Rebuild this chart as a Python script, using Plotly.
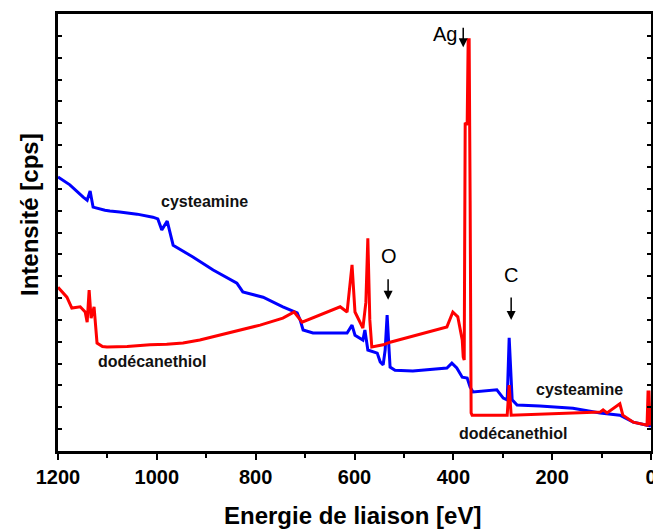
import plotly.graph_objects as go

# Cysteamine (blue) spectrum: binding energy [eV], intensity [a.u.]
cys_energy = [1200, 1176, 1149, 1141, 1135, 1129, 1105, 1095, 1075, 1040, 1008, 998, 990, 979, 967,
              927, 886, 838, 826, 785, 745, 716, 710, 704, 684, 615, 605, 599, 583, 579, 573,
              554, 548, 542, 538, 534, 530, 528, 518, 482, 413, 403, 393, 382, 372, 366, 360,
              312, 299, 291, 287, 283, 281, 271, 225, 158, 103, 63, 36, 8, 0]
cys_intensity = [62.7, 60.9, 58.1, 57.4, 59.5, 55.8, 55.1, 54.9, 54.7, 54.2, 53.5, 53.1, 50.6, 52.6, 47.1,
                 44.4, 41.4, 38.4, 36.4, 35.2, 33.0, 31.6, 30.0, 27.7, 27.0, 27.0, 28.8, 26.5, 25.4, 27.7, 23.1,
                 22.4, 20.4, 19.7, 23.1, 31.1, 23.1, 19.2, 18.5, 18.3, 19.0, 20.1, 19.0, 16.9, 16.7, 14.6, 13.5,
                 14.0, 12.1, 11.7, 25.9, 14.0, 11.7, 10.5, 10.3, 9.8, 8.7, 8.2, 6.6, 5.9, 5.7]

# Dodecanethiol (red) spectrum
dod_energy = [1200, 1182, 1172, 1155, 1145, 1141, 1137, 1133, 1127, 1121, 1110, 1101, 1060, 1014, 980, 947,
              913, 880, 846, 791, 745,
              722, 706, 670, 629, 615, 605, 599, 583, 577, 573, 569, 565, 542, 528, 413, 401, 391,
              382, 380, 378, 376, 372, 370, 368, 366, 364, 362, 291, 287, 283, 158, 103, 97, 89,
              63, 57, 36, 8, 6, 4, 2, 0]
dod_intensity = [37.5, 35.2, 32.7, 33.0, 31.8, 29.5, 36.8, 30.4, 33.0, 24.7, 23.9, 23.8, 23.9, 24.3, 24.4, 24.7,
                 25.4, 26.3, 27.2, 28.8, 30.4,
                 31.8, 29.5, 31.1, 33.0, 31.8, 42.6, 31.8, 28.1, 34.0, 48.7, 30.0, 23.8, 24.3, 24.9, 28.4, 31.8, 30.7,
                 25.4, 21.5, 20.8, 75.1, 74.6, 94.1, 94.1, 57.4, 8.7, 8.2, 8.2, 15.1, 8.2, 8.7, 8.9, 9.4, 8.7,
                 10.8, 8.2, 6.6, 5.9, 13.5, 13.5, 5.9, 7.1]

x_ticks = [1200, 1000, 800, 600, 400, 200, 0]

FONT = "Liberation Sans, Arial, sans-serif"

fig = go.Figure()
fig.add_trace(go.Scatter(x=cys_energy, y=cys_intensity, mode="lines", name="cysteamine",
                         line=dict(color="#0000FF", width=3)))
fig.add_trace(go.Scatter(x=dod_energy, y=dod_intensity, mode="lines", name="dodécanethiol",
                         line=dict(color="#FF0000", width=3)))

anns = []
# element labels
for txt, x, y in [("Ag", 416, 95.5), ("O", 530, 44.6), ("C", 283, 40.3)]:
    anns.append(dict(x=x, y=y, text=txt, showarrow=False,
                     font=dict(family=FONT, size=20, color="black")))
# arrows
for x, y, ay in [(380, 92.4, -21), (532, 34.6, -22), (283, 30.0, -24)]:
    anns.append(dict(x=x, y=y, text="", showarrow=True, ax=0, ay=ay,
                     arrowhead=2, arrowsize=1.2, arrowwidth=1.5, arrowcolor="black"))
# series labels
for txt, x, y in [("cysteamine", 903, 57.0), ("dodécanethiol", 1010, 20.4),
                  ("cysteamine", 144, 14.0), ("dodécanethiol", 279, 4.1)]:
    anns.append(dict(x=x, y=y, text="<b>" + txt + "</b>", showarrow=False,
                     font=dict(family=FONT, size=16, color="#111111")))
# axis titles
anns.append(dict(xref="paper", yref="paper", x=0.496, y=0, yshift=-64, yanchor="middle",
                 text="<b>Energie de liaison [eV]</b>", showarrow=False,
                 font=dict(family=FONT, size=24, color="black")))
anns.append(dict(xref="paper", yref="paper", x=0, xshift=-29, y=0.54, xanchor="center",
                 yanchor="middle", textangle=-90,
                 text="<b>Intensité [cps]</b>", showarrow=False,
                 font=dict(family=FONT, size=24, color="black")))

fig.update_layout(
    width=653, height=529,
    margin=dict(l=58, r=2, t=14, b=78),
    paper_bgcolor="white", plot_bgcolor="white",
    showlegend=False,
    annotations=anns,
    font=dict(family=FONT, color="black"),
)
fig.update_xaxes(
    range=[1200, 0], tickvals=x_ticks, ticktext=["<b>%d</b>" % v for v in x_ticks],
    tickfont=dict(family=FONT, size=20, color="black"), ticklabeloverflow="allow",
    ticks="outside", ticklen=6, tickwidth=2, tickcolor="black",
    minor=dict(dtick=100, ticks="outside", ticklen=4, tickwidth=2, tickcolor="black"),
    showline=True, linecolor="black", linewidth=3, mirror=True,
    showgrid=False, zeroline=False, automargin=False,
)
fig.update_yaxes(
    range=[0, 100], dtick=5, showticklabels=False,
    ticks="inside", ticklen=4, tickwidth=2, tickcolor="black",
    showline=True, linecolor="black", linewidth=3, mirror="ticks",
    showgrid=False, zeroline=False, automargin=False,
)

fig.write_html("out.html", config={"displayModeBar": False},
               post_script="document.body.style.margin='0';document.body.style.overflow='hidden';")
